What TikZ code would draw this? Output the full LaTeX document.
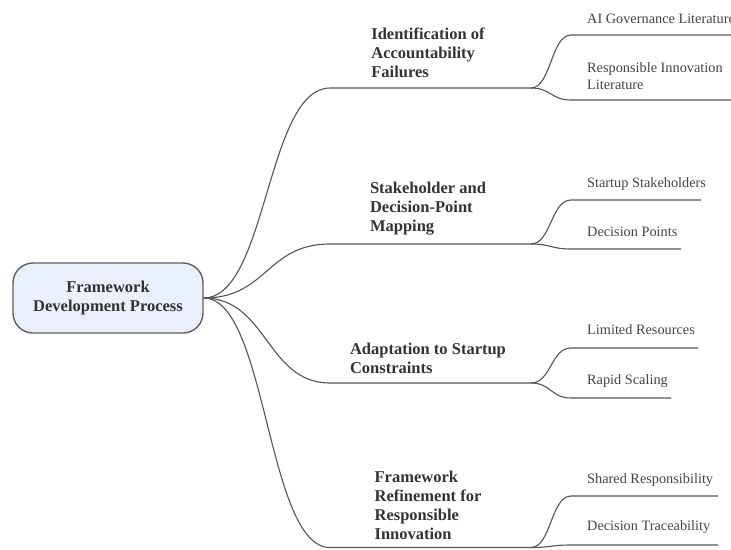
\documentclass[tikz,border=0pt]{standalone}
\usepackage{fontspec}
\setmainfont{Liberation Serif}
\definecolor{linec}{HTML}{555555}
\definecolor{rootfill}{HTML}{EAF1FC}
\definecolor{rootdraw}{HTML}{606060}
\definecolor{txtb}{HTML}{333333}
\definecolor{txtc}{HTML}{444444}
\begin{document}
\begin{tikzpicture}[x=1pt,y=-1pt,
  rootbox/.style={draw=rootdraw,line width=1.4pt,fill=rootfill,rounded corners=20pt,
    minimum width=190pt,minimum height=70pt,align=center,text=txtb,
    font=\bfseries\fontsize{16.5}{18.5}\selectfont},
  branchtxt/.style={inner sep=0pt,align=left,text=txtb,font=\bfseries\fontsize{16.5}{19}\selectfont},
  childtxt/.style={inner sep=0pt,align=left,anchor=west,text=txtc,font=\fontsize{14.3}{17}\selectfont},
  link/.style={draw=linec,line width=1.1pt}]
\useasboundingbox (0,0) rectangle (731,549);
\node[rootbox] (r) at (108,298) {Framework\\Development Process};
% branch line coordinates
\coordinate (b1s) at (330,88);  \coordinate (b1e) at (531,88);
\coordinate (b2s) at (330,244); \coordinate (b2e) at (531,244);
\coordinate (b3s) at (330,383); \coordinate (b3e) at (531,383);
\coordinate (b4s) at (330,547.5); \coordinate (b4e) at (531,547.5);
% child line coordinates
\coordinate (c11s) at (571,35);  \coordinate (c11e) at (735,35);
\coordinate (c12s) at (571,100); \coordinate (c12e) at (735,100);
\coordinate (c21s) at (571,200); \coordinate (c21e) at (701,200);
\coordinate (c22s) at (571,249); \coordinate (c22e) at (681,249);
\coordinate (c31s) at (571,348); \coordinate (c31e) at (698,348);
\coordinate (c32s) at (571,398); \coordinate (c32e) at (671,398);
\coordinate (c41s) at (571,496); \coordinate (c41e) at (718,496);
\coordinate (c42s) at (571,545); \coordinate (c42e) at (718,545);
% branch texts
\node[branchtxt] (t1) at (428,53) {Identification of\\Accountability\\Failures};
\node[branchtxt] (t2) at (428,209) {Stakeholder and\\Decision-Point\\Mapping};
\node[branchtxt] (t3) at (428,358.5) {Adaptation to Startup\\Constraints};
\node[branchtxt] (t4) at (428,505) {Framework\\Refinement for\\Responsible\\Innovation};
% child texts
\node[childtxt] (n11) at (587,19) {AI Governance Literature};
\node[childtxt] (n12) at (587,76.5) {Responsible Innovation\\Literature};
\node[childtxt] (n21) at (587,184) {Startup Stakeholders};
\node[childtxt] (n22) at (587,232) {Decision Points};
\node[childtxt] (n31) at (587,330) {Limited Resources};
\node[childtxt] (n32) at (587,381) {Rapid Scaling};
\node[childtxt] (n41) at (587,480) {Shared Responsibility};
\node[childtxt] (n42) at (587,527) {Decision Traceability};
% root to branches
\foreach \b in {b1,b2,b3,b4}{
  \draw[link] (r.east) .. controls ([xshift=63.5pt]r.east) and ([xshift=-63.5pt]\b s) .. (\b s) -- (\b e);
}
% branches to children
\foreach \b/\c in {b1/c11,b1/c12,b2/c21,b2/c22,b3/c31,b3/c32,b4/c41,b4/c42}{
  \draw[link] (\b e) .. controls ([xshift=20pt]\b e) and ([xshift=-20pt]\c s) .. (\c s) -- (\c e);
}
\end{tikzpicture}
\end{document}
